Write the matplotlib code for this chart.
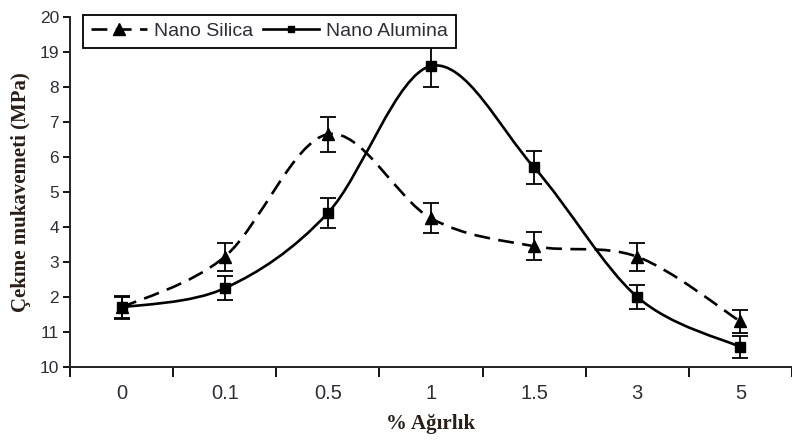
import numpy as np
import matplotlib
matplotlib.use("Agg")
import matplotlib.pyplot as plt
from matplotlib.path import Path
from matplotlib.patches import PathPatch
from matplotlib.lines import Line2D

categories = ["0", "0.1", "0.5", "1", "1.5", "3", "5"]
silica = [11.7, 13.15, 16.65, 14.25, 13.45, 13.15, 11.3]
silica_err = [0.3, 0.4, 0.5, 0.43, 0.4, 0.4, 0.33]
alumina = [11.7, 12.25, 14.4, 18.6, 15.7, 12.0, 10.57]
alumina_err = [0.33, 0.35, 0.43, 0.6, 0.48, 0.34, 0.32]
ytick_vals = [10, 11, 12, 13, 14, 15, 16, 17, 18, 19, 20]
ytick_labels = ["10", "11", "2", "3", "4", "5", "6", "7", "8", "19", "20"]

TICK_C = "#2e2e36"
LAB_C = "#2a1e18"
SANS = ["Liberation Sans", "DejaVu Sans"]
SERIF = ["Liberation Serif", "DejaVu Serif"]
DASH = (0, (6, 3.2))


def smooth_path(x, y):
    x = np.asarray(x, float)
    y = np.asarray(y, float)
    n = len(x)
    verts = [(x[0], y[0])]
    codes = [Path.MOVETO]
    for i in range(n - 1):
        xm1, ym1 = (x[i - 1], y[i - 1]) if i > 0 else (x[i], y[i])
        xp2, yp2 = (x[i + 2], y[i + 2]) if i + 2 < n else (x[i + 1], y[i + 1])
        c1 = (x[i] + (x[i + 1] - xm1) / 6, y[i] + (y[i + 1] - ym1) / 6)
        c2 = (x[i + 1] - (xp2 - x[i]) / 6, y[i + 1] - (yp2 - y[i]) / 6)
        verts += [c1, c2, (x[i + 1], y[i + 1])]
        codes += [Path.CURVE4] * 3
    return Path(verts, codes)


fig = plt.figure(figsize=(7.92, 4.48), dpi=100)
ax = fig.add_axes([70 / 792, 1 - 367 / 448, 722 / 792, 350 / 448])

xs = np.arange(len(categories))
lw = 1.9

p_sil = PathPatch(smooth_path(xs, silica), fill=False, edgecolor="black",
                  linewidth=lw, linestyle=DASH, zorder=2)
p_alu = PathPatch(smooth_path(xs, alumina), fill=False, edgecolor="black",
                  linewidth=lw, zorder=2)
ax.add_patch(p_sil)
ax.add_patch(p_alu)

ax.errorbar(xs, silica, yerr=silica_err, fmt="^", color="black", ms=9,
            capsize=6, elinewidth=1.3, capthick=1.3, zorder=3)
ax.errorbar(xs, alumina, yerr=alumina_err, fmt="s", color="black", ms=6.5,
            capsize=6, elinewidth=1.3, capthick=1.3, zorder=3)

ax.set_xlim(-0.5, 6.5)
ax.set_ylim(10, 20)
ax.set_xticks(xs)
ax.set_xticklabels(categories, fontsize=14.5, color=TICK_C, family=SANS)
ax.set_xticks(np.arange(-0.5, 6.6, 1), minor=True)
ax.tick_params(axis="x", which="major", length=0, pad=12)
ax.tick_params(axis="x", which="minor", length=7, width=1.3, direction="out")
ax.set_yticks(ytick_vals)
ax.set_yticklabels(ytick_labels, fontsize=12.5, color=TICK_C, family=SANS)
ax.tick_params(axis="y", length=5, width=1.3, direction="out", pad=3)

for s in ["top", "right"]:
    ax.spines[s].set_visible(False)
for s in ["left", "bottom"]:
    ax.spines[s].set_linewidth(1.4)
    ax.spines[s].set_color("#222222")

ax.set_xlabel("% Ağırlık", fontsize=15, fontweight="bold", family=SERIF,
              color=LAB_C, labelpad=8)
ax.set_ylabel("Çekme mukavemeti (MPa)", fontsize=15, fontweight="bold",
              family=SERIF, color=LAB_C, labelpad=6)

h1 = Line2D([], [], color="black", lw=lw, linestyle=DASH, marker="^", ms=8)
h2 = Line2D([], [], color="black", lw=lw, marker="s", ms=5)
leg = ax.legend([h1, h2], ["Nano Silica", "Nano Alumina"], ncol=2,
                loc="upper left", bbox_to_anchor=(0.018, 1.006),
                borderaxespad=0, fancybox=False, framealpha=1,
                edgecolor="black", handlelength=2.9, handletextpad=0.35,
                columnspacing=0.5, borderpad=0.4,
                prop={"family": SANS, "size": 14})
leg.get_frame().set_linewidth(1.3)
for t in leg.get_texts():
    t.set_color(TICK_C)

fig.savefig("out.png", dpi=100)
